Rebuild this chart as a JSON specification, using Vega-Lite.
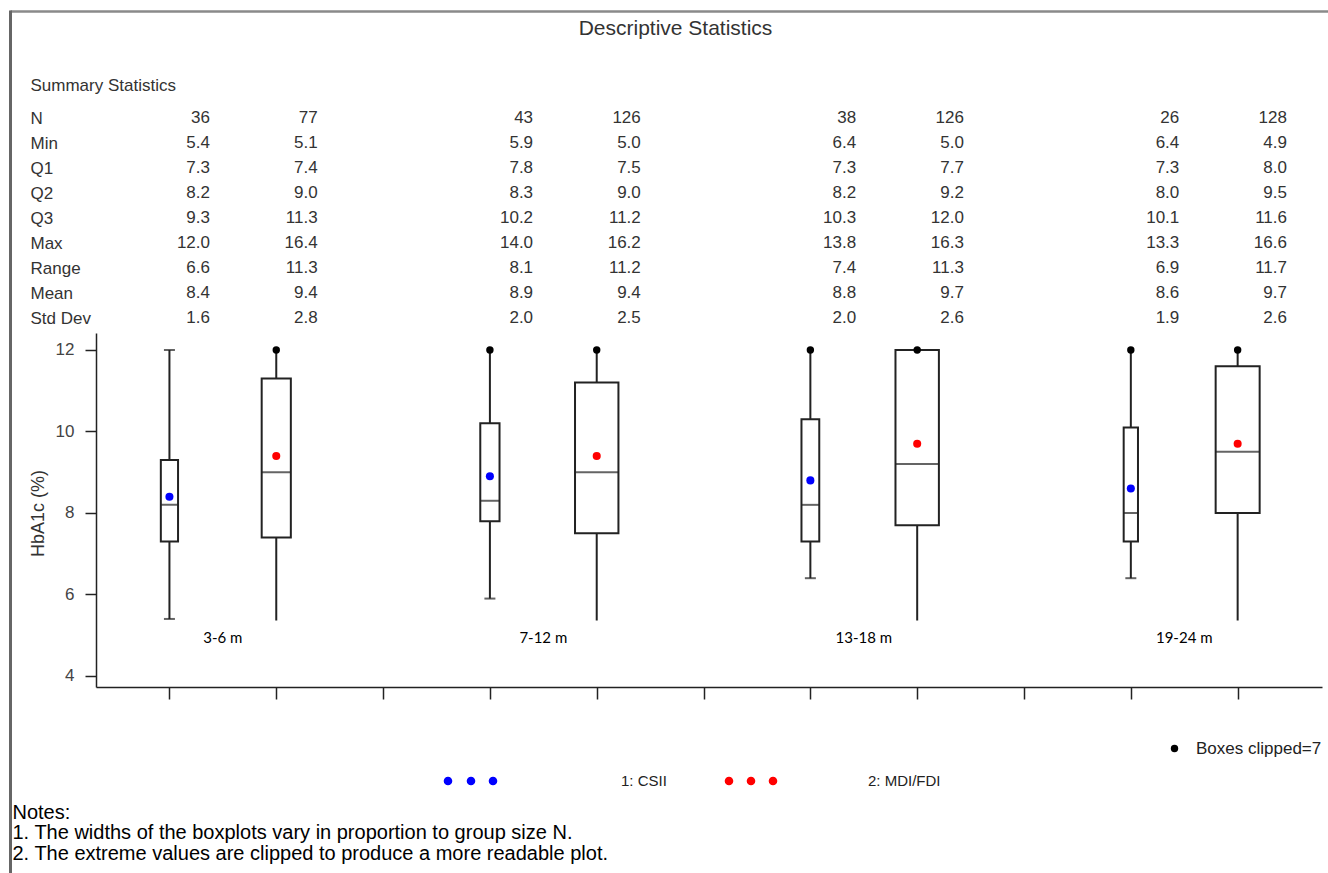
{
  "$schema": "https://vega.github.io/schema/vega-lite/v6.json",
  "width": 1226,
  "height": 354,
  "autosize": "none",
  "padding": {"left": 96, "top": 333, "right": 6, "bottom": 186},
  "background": "white",
  "config": {
    "view": {"stroke": null},
    "font": "Liberation Sans",
    "axis": {"grid": false}
  },
  "data": {
    "values": [
      {"period": "3-6 m", "group": "1: CSII", "pos": 1, "N": 36, "Min": 5.4, "Q1": 7.3, "Q2": 8.2, "Q3": 9.3, "Max": 12.0, "Range": 6.6, "Mean": 8.4, "Std Dev": 1.6, "whisker_lo": 5.4, "whisker_hi": 12.0, "clipped": false, "cap_lo": true, "cap_hi": true},
      {"period": "3-6 m", "group": "2: MDI/FDI", "pos": 2, "N": 77, "Min": 5.1, "Q1": 7.4, "Q2": 9.0, "Q3": 11.3, "Max": 16.4, "Range": 11.3, "Mean": 9.4, "Std Dev": 2.8, "whisker_lo": 5.36, "whisker_hi": 12.0, "clipped": true, "cap_lo": false, "cap_hi": false},
      {"period": "7-12 m", "group": "1: CSII", "pos": 4, "N": 43, "Min": 5.9, "Q1": 7.8, "Q2": 8.3, "Q3": 10.2, "Max": 14.0, "Range": 8.1, "Mean": 8.9, "Std Dev": 2.0, "whisker_lo": 5.9, "whisker_hi": 12.0, "clipped": true, "cap_lo": true, "cap_hi": false},
      {"period": "7-12 m", "group": "2: MDI/FDI", "pos": 5, "N": 126, "Min": 5.0, "Q1": 7.5, "Q2": 9.0, "Q3": 11.2, "Max": 16.2, "Range": 11.2, "Mean": 9.4, "Std Dev": 2.5, "whisker_lo": 5.36, "whisker_hi": 12.0, "clipped": true, "cap_lo": false, "cap_hi": false},
      {"period": "13-18 m", "group": "1: CSII", "pos": 7, "N": 38, "Min": 6.4, "Q1": 7.3, "Q2": 8.2, "Q3": 10.3, "Max": 13.8, "Range": 7.4, "Mean": 8.8, "Std Dev": 2.0, "whisker_lo": 6.4, "whisker_hi": 12.0, "clipped": true, "cap_lo": true, "cap_hi": false},
      {"period": "13-18 m", "group": "2: MDI/FDI", "pos": 8, "N": 126, "Min": 5.0, "Q1": 7.7, "Q2": 9.2, "Q3": 12.0, "Max": 16.3, "Range": 11.3, "Mean": 9.7, "Std Dev": 2.6, "whisker_lo": 5.36, "whisker_hi": 12.0, "clipped": true, "cap_lo": false, "cap_hi": false},
      {"period": "19-24 m", "group": "1: CSII", "pos": 10, "N": 26, "Min": 6.4, "Q1": 7.3, "Q2": 8.0, "Q3": 10.1, "Max": 13.3, "Range": 6.9, "Mean": 8.6, "Std Dev": 1.9, "whisker_lo": 6.4, "whisker_hi": 12.0, "clipped": true, "cap_lo": true, "cap_hi": false},
      {"period": "19-24 m", "group": "2: MDI/FDI", "pos": 11, "N": 128, "Min": 4.9, "Q1": 8.0, "Q2": 9.5, "Q3": 11.6, "Max": 16.6, "Range": 11.7, "Mean": 9.7, "Std Dev": 2.6, "whisker_lo": 5.36, "whisker_hi": 12.0, "clipped": true, "cap_lo": false, "cap_hi": false}
    ]
  },
  "layer": [
    {
      "mark": {"type": "point", "opacity": 0},
      "encoding": {
        "x": {"field": "pos", "type": "quantitative", "axis": null},
        "y": {
          "field": "Mean", "type": "quantitative",
          "scale": {"domain": [0, 20], "range": [-323, 540], "nice": false, "zero": false},
          "axis": {"orient": "left", "offset": 86, "domain": true, "domainColor": "#666666", "domainWidth": 3, "ticks": false, "labels": false, "title": null, "grid": false}
        }
      }
    },
    {
      "transform": [{"fold": ["N", "Min", "Q1", "Q2", "Q3", "Max", "Range", "Mean", "Std Dev"], "as": ["stat", "value"]}],
      "encoding": {
        "x": {
          "field": "pos", "type": "quantitative",
          "scale": {"domain": [-0.857, 11.381], "range": [-86, 1232], "nice": false, "zero": false},
          "axis": {
            "orient": "top", "offset": 322, "domain": true, "domainColor": "#8a8a8a", "domainWidth": 2.5,
            "ticks": false, "labels": false, "grid": false,
            "title": "Descriptive Statistics", "titleX": 579, "titleY": 23, "titleAlign": "center",
            "titleBaseline": "alphabetic", "titleFontSize": 21, "titleFontWeight": "normal", "titleColor": "#333333", "titleFont": "Liberation Sans"
          }
        },
        "y": {
          "field": "stat", "type": "nominal",
          "scale": {"type": "point", "domain": ["N", "Min", "Q1", "Q2", "Q3", "Max", "Range", "Mean", "Std Dev"], "range": [-209.7, -9.7], "padding": 0},
          "axis": {
            "orient": "left", "offset": 86, "domain": false,
            "ticks": false, "grid": false, "labelAlign": "left", "labelBaseline": "alphabetic", "labelPadding": -20,
            "labelFontSize": 17, "labelColor": "#333333", "labelFont": "Liberation Sans", "labelLimit": 0,
            "title": "Summary Statistics", "titleAngle": 0, "titleAlign": "left", "titleBaseline": "alphabetic",
            "titleX": 20, "titleY": -242.3, "titleFontSize": 17, "titleFontWeight": "normal", "titleColor": "#333333", "titleFont": "Liberation Sans"
          }
        }
      },
      "layer": [
        {
          "transform": [{"filter": "datum.stat === 'N'"}],
          "mark": {"type": "text", "align": "right", "baseline": "alphabetic", "fontSize": 17, "color": "#333333", "font": "Liberation Sans"},
          "encoding": {"text": {"field": "value", "type": "quantitative", "format": "d"}}
        },
        {
          "transform": [{"filter": "datum.stat !== 'N'"}],
          "mark": {"type": "text", "align": "right", "baseline": "alphabetic", "fontSize": 17, "color": "#333333", "font": "Liberation Sans"},
          "encoding": {"text": {"field": "value", "type": "quantitative", "format": ".1f"}}
        }
      ]
    },
    {
      "encoding": {
        "x": {
          "field": "pos", "type": "quantitative",
          "scale": {"domain": [0.3593, 11.7428], "nice": false, "zero": false},
          "axis": {
            "orient": "bottom", "values": [1, 2, 3, 4, 5, 6, 7, 8, 9, 10, 11], "labels": false,
            "ticks": true, "tickSize": 12, "tickColor": "#222222", "tickWidth": 1.5,
            "domainColor": "#222222", "domainWidth": 1.5, "grid": false,
            "title": ["Notes:", "1. The widths of the boxplots vary in proportion to group size N.", "2. The extreme values are clipped to produce a more readable plot."],
            "titleX": -84, "titleY": 131, "titleAlign": "left", "titleAnchor": "start", "titleBaseline": "alphabetic",
            "titleFontSize": 20, "titleFontWeight": "normal", "titleColor": "#000000", "titleLineHeight": 20.5, "titleFont": "Liberation Sans"
          }
        }
      },
      "layer": [
        {
          "mark": {"type": "rule", "color": "#222222", "strokeWidth": 2},
          "encoding": {
            "y": {
              "field": "whisker_lo", "type": "quantitative",
              "scale": {"domain": [3.73, 12.417], "nice": false, "zero": false},
              "axis": {
                "orient": "left", "values": [4, 6, 8, 10, 12], "tickSize": 11, "labelPadding": 11,
                "labelFontSize": 17, "labelColor": "#444444", "labelFont": "Liberation Sans",
                "tickColor": "#222222", "tickWidth": 1.5, "domainColor": "#222222", "domainWidth": 1.5, "grid": false,
                "title": "HbA1c (%)", "titleX": -58, "titleY": 180, "titleAngle": -90, "titleAlign": "center",
                "titleBaseline": "middle", "titleFontSize": 18, "titleFontWeight": "normal", "titleColor": "#333333", "titleFont": "Liberation Sans"
              }
            },
            "y2": {"field": "whisker_hi"}
          }
        },
        {
          "transform": [{"filter": "datum.cap_lo"}],
          "mark": {"type": "tick", "orient": "horizontal", "size": 11, "thickness": 2, "color": "#222222"},
          "encoding": {"y": {"field": "whisker_lo", "type": "quantitative", "scale": {"domain": [3.73, 12.417], "nice": false, "zero": false}}}
        },
        {
          "transform": [{"filter": "datum.cap_hi"}],
          "mark": {"type": "tick", "orient": "horizontal", "size": 11, "thickness": 2, "color": "#222222"},
          "encoding": {"y": {"field": "whisker_hi", "type": "quantitative", "scale": {"domain": [3.73, 12.417], "nice": false, "zero": false}}}
        },
        {
          "mark": {"type": "bar", "orient": "vertical", "fill": "white", "stroke": "#222222", "strokeWidth": 2},
          "encoding": {
            "y": {"field": "Q1", "type": "quantitative", "scale": {"domain": [3.73, 12.417], "nice": false, "zero": false}},
            "y2": {"field": "Q3"},
            "size": {"field": "N", "type": "quantitative", "scale": {"domain": [26, 128], "range": [14.3, 44], "zero": false}, "legend": null}
          }
        },
        {
          "mark": {"type": "tick", "orient": "horizontal", "thickness": 2, "color": "#222222"},
          "encoding": {
            "y": {"field": "Q2", "type": "quantitative", "scale": {"domain": [3.73, 12.417], "nice": false, "zero": false}},
            "size": {"field": "N", "type": "quantitative", "scale": {"domain": [26, 128], "range": [14.3, 44], "zero": false}, "legend": null}
          }
        },
        {
          "transform": [{"filter": "datum.clipped"}],
          "mark": {"type": "point", "filled": true, "shape": "circle", "size": 55, "opacity": 1},
          "encoding": {
            "y": {"field": "whisker_hi", "type": "quantitative", "scale": {"domain": [3.73, 12.417], "nice": false, "zero": false}},
            "fill": {
              "datum": "Boxes clipped=7", "type": "nominal", "scale": {"range": ["#000000"]},
              "legend": {
                "orient": "none", "legendX": 1070, "legendY": 407, "title": null, "symbolType": "circle", "symbolSize": 55,
                "labelOffset": 13, "labelFontSize": 17, "labelColor": "#222222", "labelFont": "Liberation Sans", "symbolStrokeWidth": 0
              }
            }
          }
        },
        {
          "mark": {"type": "point", "filled": true, "shape": "circle", "size": 65, "opacity": 1},
          "encoding": {
            "y": {"field": "Mean", "type": "quantitative", "scale": {"domain": [3.73, 12.417], "nice": false, "zero": false}},
            "color": {
              "field": "group", "type": "nominal", "scale": {"domain": ["1: CSII", "2: MDI/FDI"], "range": ["#0000ff", "#ff0000"]},
              "legend": {
                "orient": "none", "legendX": 425, "legendY": 398, "direction": "horizontal", "title": null, "symbolSize": 10000,
                "labelOffset": 0, "columnPadding": 57, "labelFontSize": 15, "labelFont": "Liberation Sans", "labelColor": "#222222",
                "symbolOpacity": 1, "symbolStrokeWidth": 0
              }
            }
          }
        },
        {
          "mark": {"type": "point", "filled": true, "opacity": 0},
          "encoding": {
            "y": {"field": "Mean", "type": "quantitative", "scale": {"domain": [3.73, 12.417], "nice": false, "zero": false}},
            "color": {
              "field": "group", "type": "nominal", "scale": {"domain": ["1: CSII", "2: MDI/FDI"], "range": ["#0000ff", "#ff0000"]},
              "legend": {
                "orient": "none", "legendX": 425, "legendY": 398, "direction": "horizontal", "title": null, "symbolSize": 10000,
                "labelOffset": 0, "columnPadding": 57, "labelFontSize": 15, "labelFont": "Liberation Sans", "labelColor": "#222222",
                "symbolOpacity": 1, "symbolStrokeWidth": 0
              }
            },
            "shape": {
              "field": "group", "type": "nominal",
              "scale": {
                "domain": ["1: CSII", "2: MDI/FDI"],
                "range": [
                  "M-2.546,0A0.086,0.086,0,1,0,-2.374,0A0.086,0.086,0,1,0,-2.546,0ZM-2.086,0A0.086,0.086,0,1,0,-1.914,0A0.086,0.086,0,1,0,-2.086,0ZM-1.646,0A0.086,0.086,0,1,0,-1.474,0A0.086,0.086,0,1,0,-1.646,0Z",
                  "M-1.866,0A0.086,0.086,0,1,0,-1.694,0A0.086,0.086,0,1,0,-1.866,0ZM-1.426,0A0.086,0.086,0,1,0,-1.254,0A0.086,0.086,0,1,0,-1.426,0ZM-0.986,0A0.086,0.086,0,1,0,-0.814,0A0.086,0.086,0,1,0,-0.986,0Z"
                ]
              },
              "legend": {
                "orient": "none", "legendX": 425, "legendY": 398, "direction": "horizontal", "title": null, "symbolSize": 10000,
                "labelOffset": 0, "columnPadding": 57, "labelFontSize": 15, "labelFont": "Liberation Sans", "labelColor": "#222222",
                "symbolOpacity": 1, "symbolStrokeWidth": 0
              }
            }
          }
        },
        {
          "mark": {"type": "text", "font": "Lato", "fontSize": 15, "color": "#000000"},
          "encoding": {
            "x": {"aggregate": "mean", "field": "pos", "type": "quantitative"},
            "y": {"datum": 4.93, "type": "quantitative", "scale": {"domain": [3.73, 12.417], "nice": false, "zero": false}},
            "text": {"field": "period", "type": "nominal"}
          }
        }
      ]
    }
  ],
  "resolve": {
    "scale": {"x": "independent", "y": "independent"},
    "axis": {"x": "independent", "y": "independent"}
  }
}
